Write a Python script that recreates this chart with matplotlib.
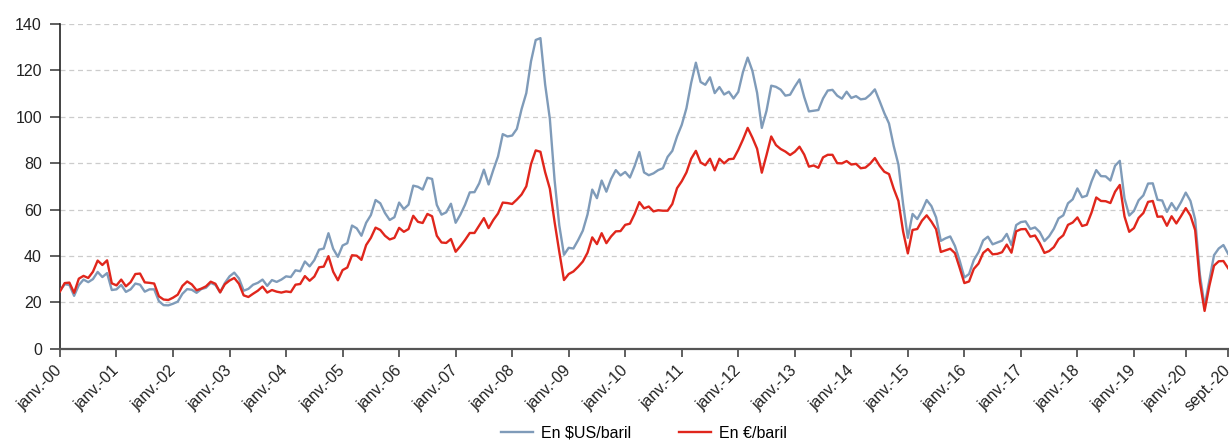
import matplotlib
matplotlib.use("Agg")
import matplotlib.pyplot as plt
import numpy as np

# --- DATA: monthly Brent price, janv. 2000 -> sept. 2020 ---
usd = [
    25.0, 27.8, 27.5, 22.8, 27.4, 29.8, 28.7, 30.0, 33.1, 30.9, 32.6, 25.3,   # 2000
    25.6, 27.5, 24.5, 25.6, 28.1, 27.6, 24.6, 25.6, 25.6, 20.5, 18.8, 18.7,   # 2001
    19.4, 20.3, 23.7, 25.7, 25.4, 24.1, 25.7, 26.3, 28.4, 27.5, 24.3, 28.3,   # 2002
    31.2, 32.8, 30.3, 25.0, 25.8, 27.6, 28.4, 29.8, 27.1, 29.6, 28.8, 29.8,   # 2003
    31.2, 30.9, 33.8, 33.4, 37.6, 35.5, 38.2, 42.7, 43.2, 49.8, 43.1, 39.6,   # 2004
    44.5, 45.5, 53.1, 51.9, 48.7, 54.3, 57.6, 64.1, 62.7, 58.5, 55.5, 56.7,   # 2005
    63.0, 60.2, 62.1, 70.3, 69.8, 68.6, 73.7, 73.2, 62.0, 57.8, 58.8, 62.5,   # 2006
    54.3, 57.8, 62.1, 67.4, 67.5, 71.3, 77.2, 70.8, 77.1, 82.9, 92.5, 91.5,   # 2007
    91.9, 94.8, 103.3, 110.2, 123.9, 133.1, 133.9, 113.9, 99.1, 72.8, 53.2, 40.5,   # 2008
    43.5, 43.2, 46.8, 50.9, 57.9, 68.6, 64.9, 72.5, 67.7, 73.2, 77.0, 74.7,   # 2009
    76.2, 73.8, 78.8, 84.8, 76.0, 74.8, 75.6, 77.0, 77.8, 82.7, 85.3, 91.5,   # 2010
    96.5, 103.7, 114.6, 123.3, 115.0, 113.8, 117.0, 110.2, 112.8, 109.6, 110.8, 107.9,   # 2011
    110.7, 119.3, 125.5, 119.8, 110.3, 95.2, 102.6, 113.4, 112.9, 111.7, 109.1, 109.5,   # 2012
    113.0, 116.1, 108.5, 102.3, 102.6, 102.9, 107.9, 111.3, 111.6, 109.1, 107.8, 110.8,   # 2013
    108.1, 108.9, 107.5, 107.8, 109.5, 111.8, 106.8, 101.6, 97.1, 87.4, 79.4, 62.3,   # 2014
    47.8, 58.1, 55.9, 59.5, 64.1, 61.5, 56.6, 46.5, 47.6, 48.4, 44.3, 38.0,   # 2015
    30.7, 32.2, 38.2, 41.6, 46.7, 48.3, 45.0, 45.8, 46.6, 49.5, 44.7, 53.3,   # 2016
    54.6, 54.9, 51.6, 52.3, 50.3, 46.4, 48.5, 51.7, 56.2, 57.5, 62.7, 64.4,   # 2017
    69.1, 65.3, 66.0, 72.1, 77.0, 74.4, 74.3, 72.5, 78.9, 81.0, 64.8, 57.4,   # 2018
    59.4, 64.0, 66.1, 71.2, 71.3, 64.2, 63.9, 59.0, 62.8, 59.7, 63.2, 67.3,   # 2019
    63.7, 55.7, 32.0, 18.4, 29.4, 40.3, 43.2, 44.7, 40.9,                     # 2020
]
eur = [
    24.7, 28.3, 28.5, 24.1, 30.2, 31.4, 30.5, 33.2, 38.0, 36.1, 38.1, 28.2,
    27.3, 29.8, 26.9, 28.7, 32.2, 32.4, 28.6, 28.4, 28.1, 22.6, 21.2, 21.0,
    22.0, 23.3, 27.1, 29.0, 27.7, 25.2, 25.9, 26.9, 28.9, 28.0, 24.3, 27.8,
    29.4, 30.5, 28.0, 23.0, 22.3, 23.7, 25.0, 26.8, 24.2, 25.3, 24.6, 24.2,
    24.7, 24.4, 27.6, 27.9, 31.3, 29.3, 31.1, 35.1, 35.4, 39.9, 33.2, 29.5,
    33.9, 35.0, 40.3, 40.1, 38.3, 44.7, 47.8, 52.2, 51.2, 48.7, 47.1, 47.8,
    52.1, 50.4, 51.6, 57.3, 54.7, 54.2, 58.1, 57.1, 48.7, 45.8, 45.6, 47.3,
    41.8, 44.2, 46.9, 49.9, 49.9, 53.1, 56.3, 52.0, 55.5, 58.3, 63.0, 62.8,
    62.4, 64.3, 66.5, 70.0, 79.6, 85.5, 84.9, 76.1, 69.0, 54.7, 41.8, 29.6,
    32.2, 33.3, 35.3, 37.6, 41.4, 48.0, 45.1, 49.8, 45.5, 48.4, 50.6, 50.7,
    53.4, 53.9, 58.1, 63.2, 60.5, 61.3, 59.2, 59.7, 59.5, 59.5, 62.4, 69.2,
    72.2, 76.0, 81.9, 85.3, 80.3, 79.1, 81.9, 76.9, 81.9, 79.9, 81.7, 81.9,
    85.7, 90.2, 95.2, 91.0, 86.2, 75.9, 83.5, 91.5, 87.8, 86.1, 85.0, 83.5,
    84.9, 87.1, 83.7, 78.5, 79.0, 78.0, 82.5, 83.6, 83.6, 80.0, 79.9, 80.9,
    79.4, 79.7, 77.8, 78.1, 79.8, 82.2, 78.9, 76.3, 75.3, 69.0, 63.7, 50.5,
    41.1, 51.2, 51.6, 55.2, 57.5, 54.8, 51.5, 41.7, 42.4, 43.1, 41.2, 34.9,
    28.3, 29.0, 34.4, 36.7, 41.3, 43.0, 40.7, 40.9, 41.6, 44.9, 41.4, 50.6,
    51.5, 51.6, 48.3, 48.8, 45.5, 41.3, 42.1, 43.8, 47.2, 48.9, 53.4, 54.4,
    56.6, 52.9, 53.5, 58.7, 65.2, 63.7, 63.6, 62.8, 67.7, 70.6, 57.0, 50.4,
    52.0, 56.4, 58.5, 63.3, 63.7, 56.9, 57.0, 53.0, 57.1, 54.0, 57.2, 60.6,
    57.4, 51.1, 28.9, 16.3, 27.0, 35.8, 37.7, 37.8, 34.7,
]
tick_pos = list(range(0, 229, 12)) + [239, 248]
tick_labels = ["janv.-%02d" % y for y in range(0, 21)] + ["sept.-20"]

plt.rcParams['font.family'] = ['Liberation Sans', 'DejaVu Sans']

fig = plt.figure(figsize=(12.29, 4.44), dpi=100)
ax = fig.add_axes([0.0488, 0.2146, 0.9505, 0.7314])

x = np.arange(len(usd))
ax.plot(x, usd, color='#7f9bb9', lw=1.7, label='En $US/baril', zorder=3)
ax.plot(x, eur, color='#e0261c', lw=1.7, label='En €/baril', zorder=4)

ax.set_xlim(0, len(usd) - 1)
ax.set_ylim(0, 140)
ax.set_yticks(range(0, 141, 20))
ax.set_xticks(tick_pos)
ax.set_xticklabels(tick_labels, rotation=45, ha='right', va='center',
                   rotation_mode='anchor')

ax.grid(axis='y', color='#cccccc', linestyle=(0, (4, 3)), lw=0.9)
ax.set_axisbelow(True)
for s in ['top', 'right']:
    ax.spines[s].set_visible(False)
ax.spines['left'].set_color('#222222')
ax.spines['left'].set_linewidth(1.2)
ax.spines['bottom'].set_color('#555555')
ax.spines['bottom'].set_linewidth(1.6)

ax.tick_params(axis='y', length=7, width=1.2, color='#444444', pad=6,
               labelsize=11.5, labelcolor='#222222')
ax.tick_params(axis='x', length=6, width=1.2, color='#444444', pad=8,
               labelsize=11.5, labelcolor='#222222')

ax.legend(loc='center', bbox_to_anchor=(0.5, -0.26), ncol=2, frameon=False,
          fontsize=11.5, handlelength=2.0, columnspacing=3.0, handletextpad=0.5)

fig.savefig('out.png', dpi=100)
